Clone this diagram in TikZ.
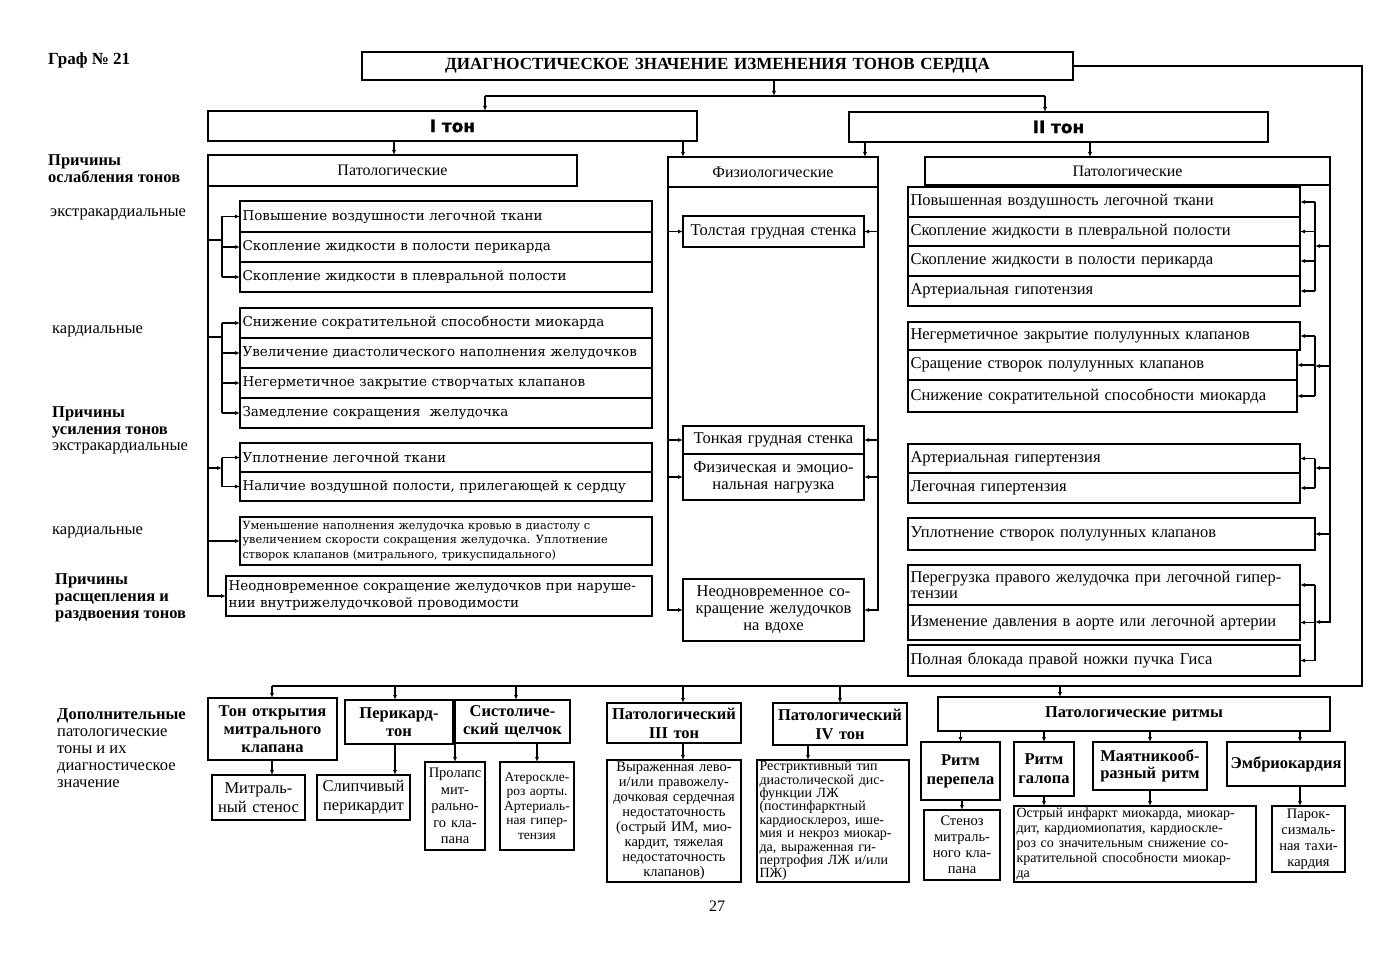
\documentclass[tikz,border=0pt]{standalone}
\usepackage{fontspec}
\setmainfont{Liberation Serif}
\newfontfamily\fR{Liberation Serif}
\newfontfamily\fL{DejaVu Serif}
\newfontfamily\fS{DejaVu Sans}[BoldFeatures={FakeBold=1.2}]
\usetikzlibrary{arrows.meta,calc}
\newcommand\fs[2]{\fontsize{#1}{#2}\selectfont}
\newcommand\bx[7]{\pgfmathsetmacro\tw{#4-5}\node[#6, anchor=north west, minimum width=#4pt, minimum height=#5pt, text width=\tw pt] (#1) at (#2,#3) {#7};}
\tikzset{
 bxs/.style={draw, line width=1.1pt, inner xsep=2.5pt, inner ysep=0pt, outer sep=0pt},
 rt/.style={bxs, font=\fR\fs{16.5}{15.5}, align=left},
 lt/.style={bxs, font=\fL\fs{13.5}{17}, align=left},
 hd/.style={bxs, font=\fR\bfseries\fs{16.5}{18}, align=center},
 hn/.style={bxs, font=\fR\fs{16}{18}, align=center},
 sm/.style={bxs, font=\fR\fs{15}{15}, align=center},
 arr/.style={-{Latex[length=5pt,width=4pt]}, line width=1.1pt},
 ln/.style={line width=1.1pt},
 lab/.style={anchor=north west, inner sep=0pt, align=left, font=\fR\fs{16.5}{17}},
}
\begin{document}
\begin{tikzpicture}[x=1pt,y=-1pt]
\fill[white] (0,0) rectangle (1387,960);
\useasboundingbox (0,0) rectangle (1387,960);

% ---------- top ----------
\node[lab, font=\fR\bfseries\fs{17}{17}] (graf) at (48,53) {Граф № 21};
\bx{title}{362}{52}{711}{28}{hd, font=\fR\bfseries\fs{17}{18}}{ДИАГНОСТИЧЕСКОЕ ЗНАЧЕНИЕ ИЗМЕНЕНИЯ ТОНОВ СЕРДЦА}
\bx{t1}{208}{111}{489}{30}{bxs, align=center, font=\fS\bfseries\fs{17}{18}}{I тон}
\bx{t2}{849}{112}{419}{30}{bxs, align=center, font=\fS\bfseries\fs{17}{18}}{II тон}

\coordinate (jt) at (774,96);
\coordinate (h1) at (485,96);
\coordinate (h2) at (1045,96);
\draw[arr] (title.south -| jt) -- (jt);
\draw[ln] (h1) -- (h2);
\draw[arr] (h1) -- (h1 |- t1.north);
\draw[arr] (h2) -- (h2 |- t2.north);

% ---------- headers ----------
\bx{patL}{208}{155}{369}{31}{hn}{Патологические}
\bx{fiz}{668}{157}{210}{30}{hn}{Физиологические}
\bx{patR}{925}{157}{405}{28}{hn}{Патологические}

\coordinate (c1) at (394,141);
\coordinate (c2) at (683,141);
\coordinate (c3) at (865,142);
\coordinate (c4) at (1090,142);
\draw[arr] (c1) -- (c1 |- patL.north);
\draw[arr] (c2) -- (c2 |- fiz.north);
\draw[arr] (c3) -- (c3 |- fiz.north);
\draw[arr] (c4) -- (c4 |- patR.north);

% ---------- left labels ----------
\node[lab, font=\fR\bfseries\fs{16.5}{17}] (l1) at (48,154) {Причины\\ослабления тонов};
\node[lab] (l2) at (50,209) {экстракардиальные};
\node[lab] (l3) at (52,326) {кардиальные};
\node[lab, font=\fR\bfseries\fs{16.5}{17}] (l4) at (52,406) {Причины\\усиления тонов};
\node[lab] (l5) at (52,443) {экстракардиальные};
\node[lab] (l6) at (52,527) {кардиальные};
\node[lab, font=\fR\bfseries\fs{16.5}{17}] (l7) at (55,573) {Причины\\расщепления и\\раздвоения тонов};
\node[lab] (l8) at (57,708) {\bfseries Дополнительные\\патологические\\тоны и их\\диагностическое\\значение};

% ---------- left column (I tone, pathological) ----------
\bx{A1}{240}{201}{412}{31}{lt}{Повышение воздушности легочной ткани}
\bx{A2}{240}{232}{412}{30}{lt}{Скопление жидкости в полости перикарда}
\bx{A3}{240}{262}{412}{30}{lt}{Скопление жидкости в плевральной полости}
\bx{B1}{240}{308}{412}{30}{lt}{Снижение сократительной способности миокарда}
\bx{B2}{240}{338}{412}{30}{lt}{Увеличение диастолического наполнения желудочков}
\bx{B3}{240}{368}{412}{30}{lt}{Негерметичное закрытие створчатых клапанов}
\bx{B4}{240}{398}{412}{30}{lt}{Замедление сокращения\ \ желудочка}
\bx{C1}{240}{443}{412}{29}{lt}{Уплотнение легочной ткани}
\bx{C2}{240}{472}{412}{29}{lt}{Наличие воздушной полости, прилегающей к сердцу}
\bx{D}{240}{517}{412}{48}{lt, font=\fL\fs{11.3}{14.5}}{Уменьшение наполнения желудочка кровью в диастолу с\\увеличением скорости сокращения желудочка. Уплотнение\\створок клапанов (митрального, трикуспидального)}
\bx{E}{226}{576}{426}{40}{lt}{Неодновременное сокращение желудочков при наруше-\\нии внутрижелудочковой проводимости}

\draw[arr] (patL.south west) |- (E.west);
\coordinate (ja) at (222,240);
\coordinate (jb) at (222,337);
\coordinate (jc) at (222,468);
\draw[ln] (patL.south west |- ja) -- (ja);
\draw[ln] (ja |- A1.west) -- (ja |- A3.west);
\foreach \n in {A1,A2,A3} \draw[arr] (ja |- \n.west) -- (\n.west);
\draw[ln] (patL.south west |- jb) -- (jb);
\draw[ln] (jb |- B1.west) -- (jb |- B4.west);
\foreach \n in {B1,B2,B3,B4} \draw[arr] (jb |- \n.west) -- (\n.west);
\draw[arr] (patL.south west |- jc) -- (jc);
\draw[ln] (jc |- C1.west) -- (jc |- C2.west);
\foreach \n in {C1,C2} \draw[arr] (jc |- \n.west) -- (\n.west);
\draw[arr] (patL.south west |- D.west) -- (D.west);

% ---------- middle column (physiological) ----------
\bx{F1}{683}{216}{181}{31}{rt, align=center}{Толстая грудная стенка}
\bx{F2}{683}{426}{181}{28}{rt, align=center}{Тонкая грудная стенка}
\bx{F3}{683}{454}{181}{46}{rt, align=center, font=\fR\fs{16.5}{17}}{Физическая и эмоцио-\\нальная нагрузка}
\bx{F4}{683}{579}{181}{62}{rt, align=center, font=\fR\fs{16.5}{17}}{Неодновременное со-\\кращение желудочков\\на вдохе}
\draw[arr] (fiz.south west) |- (F4.west);
\draw[arr] (fiz.south east) |- (F4.east);
\foreach \n in {F1,F2,F3} {
  \draw[arr] (fiz.south west |- \n.west) -- (\n.west);
  \draw[arr] (fiz.south east |- \n.east) -- (\n.east);
}

% ---------- right column (II tone, pathological) ----------
\bx{R1}{908}{187}{392}{30}{rt}{Повышенная воздушность легочной ткани}
\bx{R2}{908}{217}{392}{29}{rt}{Скопление жидкости в плевральной полости}
\bx{R3}{908}{246}{392}{30}{rt}{Скопление жидкости в полости перикарда}
\bx{R4}{908}{276}{392}{30}{rt}{Артериальная гипотензия}
\bx{S1}{908}{322}{392}{28}{rt}{Негерметичное закрытие полулунных клапанов}
\bx{S2}{908}{350}{389}{30}{rt}{Сращение створок полулунных клапанов}
\bx{S3}{908}{380}{389}{32}{rt}{Снижение сократительной способности миокарда}
\bx{T1}{908}{444}{392}{29}{rt}{Артериальная гипертензия}
\bx{T2}{908}{473}{392}{30}{rt}{Легочная гипертензия}
\bx{U}{908}{518}{407}{32}{rt}{Уплотнение створок полулунных клапанов}
\bx{V1}{908}{565}{392}{40}{rt}{Перегрузка правого желудочка при легочной гипер-\\тензии}
\bx{V2}{908}{605}{392}{35}{rt}{Изменение давления в аорте или легочной артерии}
\bx{V3}{908}{645}{392}{31}{rt}{Полная блокада правой ножки пучка Гиса}

\coordinate (jr) at (1315,246);
\coordinate (js) at (1315,366);
\coordinate (jq) at (1315,468);
\coordinate (jv) at (1315,622);
\draw[arr] (patR.south east) |- (jv);
\draw[arr] (patR.south east |- jr) -- (jr);
\draw[ln] (jr |- R1.east) -- (jr |- R4.east);
\foreach \n in {R1,R2,R3,R4} \draw[arr] (jr |- \n.east) -- (\n.east);
\draw[arr] (patR.south east |- js) -- (js);
\draw[ln] (js |- S1.east) -- (js |- S3.east);
\foreach \n in {S1,S2,S3} \draw[arr] (js |- \n.east) -- (\n.east);
\draw[arr] (patR.south east |- jq) -- (jq);
\draw[ln] (jq |- T1.east) -- (jq |- T2.east);
\foreach \n in {T1,T2} \draw[arr] (jq |- \n.east) -- (\n.east);
\draw[arr] (patR.south east |- U.east) -- (U.east);
\draw[ln] (jv |- V1.east) -- (jv |- V3.east);
\foreach \n in {V1,V2,V3} \draw[arr] (jv |- \n.east) -- (\n.east);

% ---------- bottom ----------
\bx{b1}{208}{698}{129}{62}{hd}{Тон открытия\\митрального\\клапана}
\bx{b1d}{212}{775}{93}{45}{sm, font=\fR\fs{16.5}{19}}{Митраль-\\ный стенос}
\bx{b2}{345}{700}{108}{44}{hd}{Перикард-\\тон}
\bx{b2d}{317}{775}{93}{45}{sm, font=\fR\fs{16.5}{19}}{Слипчивый\\перикардит}
\bx{b3}{455}{700}{115}{43}{hd}{Систоличе-\\ский щелчок}
\bx{b3a}{425}{762}{60}{88}{sm, font=\fR\fs{14.5}{16.5}, inner xsep=1pt}{Пролапс\\мит-\\рально-\\го кла-\\пана}
\bx{b3b}{500}{762}{74}{88}{sm, font=\fR\fs{13.5}{14.5}, inner xsep=1pt}{Атероскле-\\роз аорты.\\Артериаль-\\ная гипер-\\тензия}
\bx{b4}{607}{703}{134}{40}{hd, font=\fR\bfseries\fs{16.5}{19}}{Патологический\\III тон}
\bx{b4d}{607}{760}{134}{122}{sm, font=\fR\fs{14.5}{15}}{Выраженная лево-\\и/или правожелу-\\дочковая сердечная\\недостаточность\\(острый ИМ, мио-\\кардит, тяжелая\\недостаточность\\клапанов)}
\bx{b5}{773}{703}{134}{42}{hd, font=\fR\bfseries\fs{16.5}{19}}{Патологический\\IV тон}
\bx{b5d}{757}{760}{152}{122}{sm, align=left, font=\fR\fs{14}{13.4}, inner xsep=1.5pt}{Рестриктивный тип\\диастолической дис-\\функции ЛЖ\\(постинфарктный\\кардиосклероз, ише-\\мия и некроз миокар-\\да, выраженная ги-\\пертрофия ЛЖ и/или\\ПЖ)}
\bx{b6}{938}{697}{392}{34}{hd}{Патологические ритмы}
\bx{r1}{921}{742}{79}{58}{hd, font=\fR\bfseries\fs{16.5}{19}}{Ритм\\перепела}
\bx{r1d}{924}{810}{76}{70}{sm, font=\fR\fs{14.5}{16}}{Стеноз\\митраль-\\ного кла-\\пана}
\bx{r2}{1014}{742}{60}{54}{hd, font=\fR\bfseries\fs{16.5}{19}, inner xsep=1pt}{Ритм\\галопа}
\bx{r3}{1093}{742}{114}{48}{hd, font=\fR\bfseries\fs{16.5}{17}}{Маятникооб-\\разный ритм}
\bx{r4}{1227}{742}{118}{44}{hd, inner xsep=1pt}{Эмбриокардия}
\bx{rd}{1014}{806}{242}{76}{sm, align=left, font=\fR\fs{14}{15}}{\makebox[\hsize][s]{Острый инфаркт миокарда, миокар-}\\\makebox[\hsize][s]{дит, кардиомиопатия, кардиоскле-}\\\makebox[\hsize][s]{роз со значительным снижение со-}\\\makebox[\hsize][s]{кратительной способности миокар-}\\да}
\bx{r4d}{1272}{806}{73}{66}{sm, font=\fR\fs{14.5}{16}, inner xsep=1pt}{Парок-\\сизмаль-\\ная тахи-\\кардия}

\coordinate (bR) at (1362,686);
\coordinate (k1) at (272,686);
\coordinate (k2) at (395,686);
\coordinate (k3) at (516,686);
\coordinate (k4) at (683,686);
\coordinate (k5) at (840,686);
\coordinate (k6) at (1060,686);
\coordinate (k5b) at (808,686);
\coordinate (k7) at (1300,686);
\draw[ln] (title.east) -| (bR) -- (k1);
\draw[arr] (k1) -- (k1 |- b1.north);
\draw[arr] (k2) -- (k2 |- b2.north);
\draw[arr] (k3) -- (k3 |- b3.north);
\draw[arr] (k4) -- (k4 |- b4.north);
\draw[arr] (k5) -- (k5 |- b5.north);
\draw[arr] (k6) -- (k6 |- b6.north);
\draw[arr] (b1.south -| k1) -- (k1 |- b1d.north);
\draw[arr] (b2.south -| k2) -- (k2 |- b2d.north);
\draw[arr] (b3.south -| b3a.north) -- (b3a.north);
\draw[arr] (b3.south -| b3b.north) -- (b3b.north);
\draw[arr] (b4.south -| k4) -- (k4 |- b4d.north);
\draw[arr] (b5.south -| k5b) -- (k5b |- b5d.north);
\draw[arr] (b6.south -| r1.north) -- (r1.north);
\draw[arr] (b6.south -| r2.north) -- (r2.north);
\draw[arr] (b6.south -| r3.north) -- (r3.north);
\draw[arr] (b6.south -| k7) -- (k7 |- r4.north);
\draw[arr] (r1.south -| r1d.north) -- (r1d.north);
\draw[arr] (r2.south) -- (r2.south |- rd.north);
\draw[arr] (r3.south) -- (r3.south |- rd.north);
\draw[arr] (r4.south -| k7) -- (k7 |- r4d.north);

\node[font=\fR\fs{16}{16}] (pg) at (717,906) {27};
\end{tikzpicture}
\end{document}
